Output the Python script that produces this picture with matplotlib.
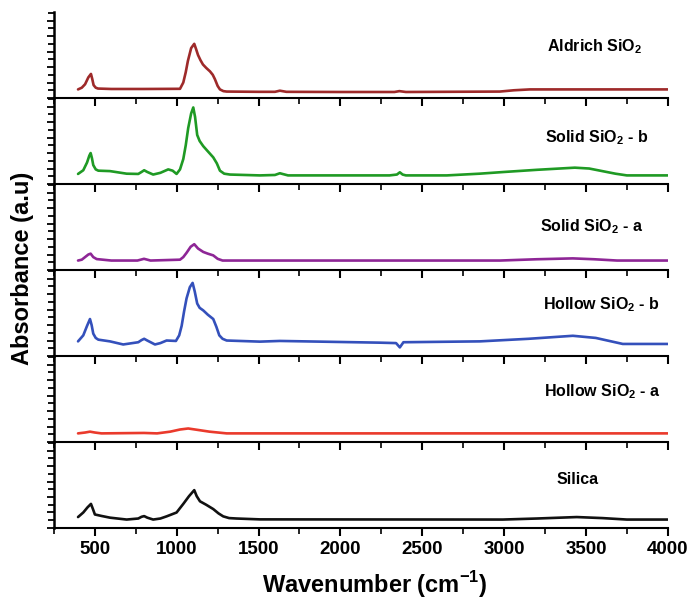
import matplotlib
matplotlib.use("Agg")
import matplotlib.pyplot as plt
from matplotlib.ticker import MultipleLocator, AutoMinorLocator

plt.rcParams['font.family'] = ['Liberation Sans', 'DejaVu Sans']
plt.rcParams['font.weight'] = 'bold'
plt.rcParams['mathtext.fontset'] = 'custom'
plt.rcParams['mathtext.bf'] = 'Liberation Sans:bold'
plt.rcParams['mathtext.rm'] = 'Liberation Sans:bold'

# spectra (wavenumber cm-1, absorbance a.u.)
aldrich_x = [397, 420, 440, 460, 476, 484, 492, 505, 519, 600, 800, 1020, 1040, 1055, 1068, 1088,
             1107, 1118, 1130, 1145, 1160, 1180, 1203, 1220, 1233, 1250, 1264, 1285, 1305, 1500,
             1600, 1630, 1670, 2000, 2330, 2360, 2400, 2974, 3060, 3157, 3444, 4000]
aldrich_y = [0.10, 0.12, 0.16, 0.24, 0.28, 0.22, 0.15, 0.12, 0.11, 0.105, 0.105, 0.107, 0.18, 0.30,
             0.43, 0.58, 0.63, 0.57, 0.50, 0.44, 0.39, 0.35, 0.31, 0.27, 0.22, 0.14, 0.10, 0.08,
             0.075, 0.072, 0.072, 0.085, 0.072, 0.07, 0.07, 0.08, 0.07, 0.075, 0.09, 0.10, 0.10,
             0.10]

solid_b_x = [397, 429, 452, 466, 474, 482, 490, 505, 521, 592, 694, 765, 785, 801, 820, 856, 900,
             948, 975, 999, 1020, 1040, 1055, 1070, 1088, 1101, 1112, 1125, 1140, 1162, 1190,
             1223, 1245, 1264, 1290, 1325, 1508, 1600, 1630, 1680, 2300, 2345, 2363, 2380, 2400,
             2650, 2850, 3000, 3200, 3432, 3520, 3600, 3680, 3750, 4000]
solid_b_y = [0.117, 0.16, 0.25, 0.33, 0.36, 0.30, 0.22, 0.17, 0.155, 0.15, 0.12, 0.117, 0.14,
             0.16, 0.14, 0.11, 0.13, 0.17, 0.155, 0.117, 0.17, 0.29, 0.45, 0.65, 0.82, 0.89, 0.78,
             0.57, 0.50, 0.44, 0.38, 0.31, 0.24, 0.155, 0.12, 0.11, 0.10, 0.105, 0.125, 0.10, 0.10,
             0.11, 0.136, 0.11, 0.10, 0.10, 0.12, 0.14, 0.165, 0.19, 0.18, 0.15, 0.12, 0.10, 0.10]

solid_a_x = [397, 420, 440, 460, 474, 490, 511, 600, 760, 800, 840, 1020, 1040, 1060, 1085, 1107,
             1130, 1162, 1190, 1223, 1250, 1280, 1500, 2366, 2975, 3200, 3420, 3550, 3690, 4000]
solid_a_y = [0.11, 0.12, 0.15, 0.18, 0.19, 0.15, 0.127, 0.11, 0.11, 0.13, 0.11, 0.12, 0.15, 0.20,
             0.27, 0.30, 0.25, 0.21, 0.19, 0.17, 0.13, 0.11, 0.11, 0.11, 0.11, 0.125, 0.135, 0.125,
             0.11, 0.11]

hollow_b_x = [397, 429, 452, 470, 480, 490, 505, 521, 592, 673, 765, 785, 801, 820, 867, 900,
              938, 995, 1015, 1030, 1045, 1060, 1080, 1097, 1110, 1125, 1140, 1162, 1190, 1223,
              1242, 1260, 1280, 1305, 1508, 1630, 2240, 2340, 2363, 2385, 2852, 3150, 3420, 3560,
              3725, 4000]
hollow_b_y = [0.17, 0.24, 0.35, 0.43, 0.36, 0.26, 0.21, 0.19, 0.17, 0.134, 0.16, 0.185, 0.20,
              0.18, 0.134, 0.15, 0.18, 0.175, 0.24, 0.35, 0.52, 0.67, 0.80, 0.85, 0.75, 0.61,
              0.56, 0.53, 0.48, 0.43, 0.34, 0.24, 0.20, 0.18, 0.167, 0.175, 0.155, 0.15, 0.10,
              0.16, 0.17, 0.20, 0.235, 0.21, 0.14, 0.14]

hollow_a_x = [397, 440, 470, 500, 540, 800, 880, 960, 1020, 1070, 1130, 1200, 1305, 1500, 4000]
hollow_a_y = [0.10, 0.11, 0.12, 0.11, 0.10, 0.105, 0.10, 0.12, 0.145, 0.157, 0.14, 0.12, 0.10,
              0.10, 0.10]

silica_x = [397, 429, 455, 476, 488, 500, 540, 592, 694, 765, 785, 801, 820, 856, 900, 938, 999,
            1040, 1075, 1107, 1122, 1142, 1180, 1223, 1255, 1284, 1320, 1366, 1508, 2992, 3200,
            3444, 3600, 3750, 4000]
silica_y = [0.127, 0.18, 0.24, 0.28, 0.22, 0.157, 0.14, 0.12, 0.098, 0.11, 0.13, 0.138, 0.12,
            0.098, 0.11, 0.135, 0.18, 0.28, 0.37, 0.44, 0.37, 0.31, 0.27, 0.22, 0.17, 0.135,
            0.115, 0.11, 0.10, 0.098, 0.11, 0.127, 0.115, 0.098, 0.098]

names = [r'Aldrich SiO$_\mathbf{2}$', r'Solid SiO$_\mathbf{2}$ - b', r'Solid SiO$_\mathbf{2}$ - a',
         r'Hollow SiO$_\mathbf{2}$ - b', r'Hollow SiO$_\mathbf{2}$ - a', 'Silica']
xs = [aldrich_x, solid_b_x, solid_a_x, hollow_b_x, hollow_a_x, silica_x]
ys = [aldrich_y, solid_b_y, solid_a_y, hollow_b_y, hollow_a_y, silica_y]
colors = ['#9e2a2a', '#1f9a24', '#8e2696', '#3450bb', '#ea3a2c', '#111111']
label_pos = [(547, 47), (545, 138), (540, 227), (543, 305), (544, 392), (557, 480)]

fig, axes = plt.subplots(6, 1, sharex=True, figsize=(6.92, 6.01), dpi=100)
fig.subplots_adjust(left=0.078, right=0.965, bottom=0.1215, top=0.98, hspace=0)

for i, ax in enumerate(axes):
    ax.plot(xs[i], ys[i], color=colors[i], lw=1.9,
            solid_joinstyle='round', solid_capstyle='round')
    ax.set_xlim(250, 4000)
    ax.set_ylim(0, 1)
    ax.spines['top'].set_visible(False)
    ax.spines['right'].set_visible(False)
    ax.spines['left'].set_linewidth(1.8)
    ax.spines['bottom'].set_linewidth(1.5)
    ax.xaxis.set_major_locator(MultipleLocator(500))
    ax.xaxis.set_minor_locator(MultipleLocator(250))
    ax.yaxis.set_major_locator(MultipleLocator(0.18))
    ax.yaxis.set_minor_locator(AutoMinorLocator(2))
    ax.tick_params(axis='x', which='major', direction='out', length=6, width=1.5, labelsize=13.5)
    ax.tick_params(axis='x', which='minor', direction='out', length=4, width=1.2)
    ax.tick_params(axis='y', which='both', direction='out', length=4, width=1.3, labelleft=False)
    ax.tick_params(axis='y', which='major', length=5)
    ax.patch.set_alpha(0)
    lx, ly = label_pos[i]
    fig.text(lx / 692, 1 - ly / 601, names[i], ha='left', va='center',
             fontsize=11.5, fontweight='bold')

for lab in axes[-1].get_xticklabels():
    lab.set_fontweight('bold')

fig.text(0.032, 0.554, 'Absorbance (a.u)', rotation=90, ha='center', va='center',
         fontsize=17, fontweight='bold')
fig.text(0.542, 0.027, r'Wavenumber (cm$^{\mathbf{-1}}$)', ha='center', va='center',
         fontsize=17, fontweight='bold')

fig.savefig('out.png', dpi=100)
